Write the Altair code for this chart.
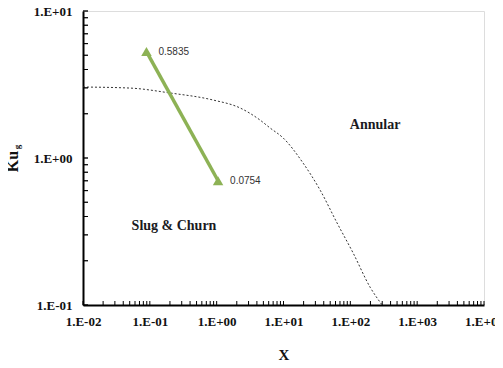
import math
import altair as alt
import pandas as pd

# Boundary curve (dashed)
curve_x = [0.01, 0.0506, 0.200, 0.883, 2.24, 4.47, 6.30, 9.86, 19.6, 35.3, 63.4, 110, 198, 299]
curve_y = [3.04, 2.99, 2.77, 2.48, 2.19, 1.81, 1.60, 1.37, 0.925, 0.605, 0.361, 0.226, 0.132, 0.100]

# Green trajectory
traj_x = [0.089, 1.05]
traj_y = [5.30, 0.70]
traj_lab = ["0.5835", "0.0754"]

# Region labels
region_x = [235, 0.23]
region_y = [1.67, 0.344]
region_lab = ["Annular", "Slug & Churn"]

# Axis ticks
x_major = [0.01, 0.1, 1, 10, 100, 1000, 10000]
x_major_lab = ["1.E-02", "1.E-01", "1.E+00", "1.E+01", "1.E+02", "1.E+03", "1.E+04"]
y_major = [0.1, 1, 10]
y_major_lab = ["1.E-01", "1.E+00", "1.E+01"]
x_minor = [m * 10.0 ** e for e in range(-2, 4) for m in range(1, 10)] + [10000.0]
y_minor = [m * 10.0 ** e for e in range(-1, 1) for m in range(1, 10)] + [10.0]

X_DOMAIN = [0.01, 10000]
Y_DOMAIN = [0.1, 10]

W, H = 401, 294
SERIF = "Liberation Serif"


def label_expr(vals, labs):
    parts = [f"abs(log(datum.value)/LN10 - ({math.log10(v):.4f})) < 0.01 ? '{l}'" for v, l in zip(vals, labs)]
    return " : ".join(parts) + " : ''"


xs = alt.Scale(type="log", domain=X_DOMAIN)
ys = alt.Scale(type="log", domain=Y_DOMAIN)

curve_df = pd.DataFrame({"x": curve_x, "y": curve_y})
traj_df = pd.DataFrame({"x": traj_x, "y": traj_y, "lab": traj_lab})
reg_df = pd.DataFrame({"x": region_x, "y": region_y, "lab": region_lab})
xt_df = pd.DataFrame({"x": x_minor})
yt_df = pd.DataFrame({"y": y_minor})
yt2_df = pd.DataFrame({"y": y_minor, "x": [X_DOMAIN[0]] * len(y_minor)})

x_axis = alt.Axis(
    values=x_major, labelExpr=label_expr(x_major, x_major_lab), ticks=False, grid=False,
    domainColor="black", domainWidth=2, labelFont=SERIF, labelFontWeight="bold",
    labelFontSize=13, labelColor="#111", labelPadding=10, labelFlush=False,
    title="X", titleFont=SERIF, titleFontWeight="bold", titleFontSize=15,
    titleColor="#111", titleBaseline="middle", titleY=49,
)
y_axis = alt.Axis(
    values=y_major, labelExpr=label_expr(y_major, y_major_lab), ticks=False, grid=False,
    domainColor="black", domainWidth=2, labelFont=SERIF, labelFontWeight="bold",
    labelFontSize=13, labelColor="#111", labelPadding=11, labelFlush=False,
    labelBaseline="middle",
    title="Ku", titleFont=SERIF, titleFontWeight="bold", titleFontSize=16,
    titleColor="#111", titleAngle=270, titleBaseline="middle", titleAlign="center",
    titleX=-71, titleY=150,
)

XE = alt.X("x:Q", scale=xs, axis=x_axis)
YE = alt.Y("y:Q", scale=ys, axis=y_axis)
XN = alt.X("x:Q", scale=xs, axis=None)
YN = alt.Y("y:Q", scale=ys, axis=None)

curve = alt.Chart(curve_df).mark_line(
    color="#333", strokeWidth=1, strokeDash=[2, 2], interpolate="monotone", clip=True
).encode(x=XE, y=YE)

traj_line = alt.Chart(traj_df).mark_line(color="#8DB255", strokeWidth=3.5).encode(x=XN, y=YN)
traj_pts = alt.Chart(traj_df).mark_point(
    shape="triangle-up", filled=True, color="#8DB255", size=110, opacity=1
).encode(x=XN, y=YN)
traj_txt = alt.Chart(traj_df).mark_text(
    align="left", baseline="middle", dx=12, font="Liberation Sans", fontSize=10, color="#333"
).encode(x=XN, y=YN, text="lab:N")

reg_txt = alt.Chart(reg_df).mark_text(
    align="center", baseline="middle", font=SERIF, fontWeight="bold", fontSize=14, color="#1a1a22"
).encode(x=XN, y=YN, text="lab:N")

# inside minor ticks
x_ticks = alt.Chart(xt_df).mark_rule(color="black", strokeWidth=1).encode(
    x=XN, y=alt.value(H), y2=alt.value(H - 4)
)
y_ticks = alt.Chart(yt_df).mark_rule(color="black", strokeWidth=1).encode(
    y=YN, x=alt.value(0), x2=alt.value(5)
)
y_ticks2 = alt.Chart(yt2_df).mark_tick(
    color="black", thickness=1, size=5, orient="horizontal", xOffset=2.5
).encode(y=YN, x=XN)

sub_g = alt.Chart(pd.DataFrame({"t": ["g"]})).mark_text(
    font=SERIF, fontWeight="bold", fontSize=9, color="#111", angle=270
).encode(x=alt.value(-66), y=alt.value(136), text="t:N")

chart = alt.layer(
    curve, traj_line, traj_pts, traj_txt, reg_txt, x_ticks, y_ticks, y_ticks2, sub_g
).resolve_axis(x="independent", y="independent").properties(
    width=W, height=H,
    autosize=alt.AutoSizeParams(type="none"),
    padding={"left": 75, "top": 3, "right": 11, "bottom": 55},
).configure_view(stroke="#7a7a7a", strokeWidth=2).configure(background="white")

chart.save("out.html", embed_options={"renderer": "svg", "actions": False})
